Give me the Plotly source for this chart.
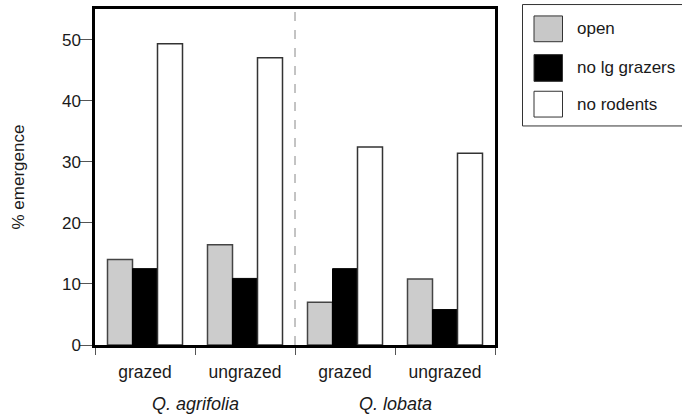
import plotly.graph_objects as go

species = ["Q. agrifolia", "Q. agrifolia", "Q. lobata", "Q. lobata"]
grazing = ["grazed", "ungrazed", "grazed", "ungrazed"]
treatments = ["open", "no lg grazers", "no rodents"]
values = {
    "open": [14.0, 16.4, 7.0, 10.8],
    "no lg grazers": [12.5, 10.9, 12.5, 5.8],
    "no rodents": [49.3, 47.0, 32.4, 31.4],
}
y_ticks = [0, 10, 20, 30, 40, 50]

cats = [f"{s}|{g}" for s, g in zip(species, grazing)]

styles = {
    "open": dict(color="#cfcfcf", line=dict(color="#444", width=1.5),
                 pattern=dict(shape=".", fgcolor="#a0a0a0", bgcolor="#d8d8d8", size=2, solidity=0.5)),
    "no lg grazers": dict(color="#000000", line=dict(color="#000", width=1)),
    "no rodents": dict(color="#ffffff", line=dict(color="#333", width=1.5)),
}

fig = go.Figure()
for t in treatments:
    fig.add_trace(go.Bar(x=cats, y=values[t], name=t, marker=styles[t], showlegend=False))

W, H = 682, 418
L, R, T, B = 95, 187, 6, 73
pw, ph = W - L - R, H - T - B

def px(xp):
    return (xp - L) / pw

def py(yp):
    return (H - B - yp) / ph

fig.update_layout(
    width=W, height=H,
    margin=dict(l=L, r=R, t=T, b=B),
    paper_bgcolor="white", plot_bgcolor="white",
    barmode="group", bargap=0.25, bargroupgap=0,
    font=dict(family="Liberation Sans, Arial, sans-serif", size=17, color="#1a1a1a"),
)
fig.update_xaxes(
    type="category", categoryorder="array", categoryarray=cats,
    tickmode="array", tickvals=cats, ticktext=grazing,
    tickson="boundaries", ticks="outside", ticklen=7, tickwidth=1, tickcolor="#555",
    showline=True, linewidth=2.5, linecolor="black", mirror=True,
    showgrid=False, zeroline=False, tickfont=dict(size=17.5), ticklabelstandoff=9,
)
fig.update_yaxes(
    range=[0, 55], tickmode="array", tickvals=y_ticks,
    ticks="outside", ticklen=12, tickwidth=1, tickcolor="#555",
    showline=True, linewidth=2.5, linecolor="black", mirror=True,
    showgrid=False, zeroline=False, tickfont=dict(size=17), ticklabelstandoff=-4,
)

# dashed separator between species
fig.add_shape(type="line", xref="x", yref="paper", x0=1.5, x1=1.5, y0=0, y1=1,
              line=dict(color="#888", width=1, dash="dash"))

# species labels
uniq = []
for s in species:
    if s not in uniq:
        uniq.append(s)
for s in uniq:
    idx = [i for i, v in enumerate(species) if v == s]
    fig.add_annotation(text=f"<i>{s}</i>", xref="x", yref="paper",
                       x=sum(idx) / len(idx), y=py(405), showarrow=False,
                       font=dict(size=18), xanchor="center", yanchor="middle")

# y title
fig.add_annotation(text="% emergence", xref="paper", yref="paper", x=px(18), y=py(176),
                   textangle=-90, showarrow=False, font=dict(size=17),
                   xanchor="center", yanchor="middle")

# legend box
fig.add_shape(type="rect", xref="paper", yref="paper", x0=px(522.5), x1=px(684),
              y0=py(124), y1=py(1.5), line=dict(color="#333", width=1), fillcolor="white")
sw = {"open": "#c8c8c8", "no lg grazers": "#000000", "no rodents": "#ffffff"}
rows = [(13, 39), (52, 79), (89, 115)]
for t, (y0, y1) in zip(treatments, rows):
    fig.add_shape(type="rect", xref="paper", yref="paper", x0=px(534), x1=px(562.5),
                  y0=py(y1), y1=py(y0), line=dict(color="#333", width=1), fillcolor=sw[t])
    fig.add_annotation(text=t, xref="paper", yref="paper", x=px(575), y=py((y0 + y1) / 2),
                       showarrow=False, xanchor="left", yanchor="middle", font=dict(size=17))

fig.write_html("out.html")
